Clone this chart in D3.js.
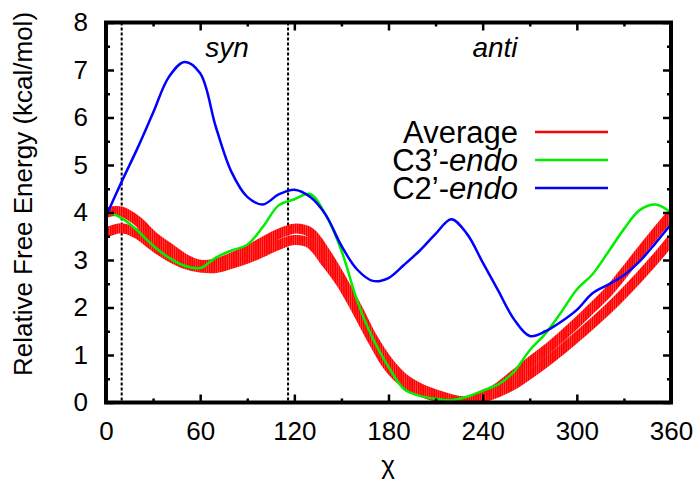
<!DOCTYPE html>
<html>
<head>
<meta charset="utf-8">
<script src="https://cdn.jsdelivr.net/npm/d3@7"></script>
<style>
  body { margin: 0; background: #fff; }
  svg { font-family: "Liberation Sans", Arial, sans-serif; }
</style>
</head>
<body>
<script>
// chi angle grid (degrees)
var chi = [0, 10, 20, 30, 40, 50, 60, 70, 80, 90, 100, 110, 120, 130, 140, 150, 160, 170, 180,
           190, 200, 210, 220, 230, 240, 250, 260, 270, 280, 290, 300, 310, 320, 330, 340, 350, 360];

// C2'-endo (blue)
var c2endo = [3.92, 4.65, 5.35, 6.1, 6.85, 7.17, 6.93, 5.8, 4.85, 4.33, 4.17, 4.38, 4.48, 4.33, 3.95, 3.3, 2.8,
              2.56, 2.62, 2.9, 3.2, 3.55, 3.86, 3.55, 2.95, 2.35, 1.75, 1.4, 1.5, 1.7, 1.95, 2.3, 2.48, 2.68,
              2.97, 3.35, 3.75];

// C3'-endo (green)
var c3endo = [4.02, 3.88, 3.62, 3.3, 3.05, 2.88, 2.83, 3.05, 3.2, 3.32, 3.7, 4.15, 4.28, 4.39, 3.95, 3.2, 2.15,
              1.35, 0.75, 0.28, 0.14, 0.08, 0.05, 0.12, 0.25, 0.38, 0.65, 1.1, 1.45, 1.9, 2.38, 2.7, 3.17, 3.65,
              4.05, 4.17, 4.0];

// Average: upper and lower edges of the error band (red)
var avgUpper = [4.0, 4.02, 3.82, 3.5, 3.26, 3.03, 2.9, 2.93, 3.05, 3.2, 3.38, 3.55, 3.66, 3.58, 3.15, 2.6, 2.0,
                1.35, 0.85, 0.5, 0.3, 0.17, 0.07, 0.03, 0.14, 0.32, 0.58, 0.85, 1.1, 1.38, 1.68, 2.0, 2.33, 2.73,
                3.15, 3.56, 3.95];
var avgLower = [3.58, 3.67, 3.55, 3.3, 3.08, 2.92, 2.84, 2.83, 2.92, 3.03, 3.17, 3.32, 3.42, 3.35, 2.95, 2.5, 1.92,
                1.3, 0.75, 0.42, 0.24, 0.12, 0.04, 0.02, 0.1, 0.22, 0.38, 0.6, 0.84, 1.1, 1.38, 1.67, 1.97, 2.3,
                2.65, 3.02, 3.42];

var xTicks = [0, 60, 120, 180, 240, 300, 360];
var yTicks = [0, 1, 2, 3, 4, 5, 6, 7, 8];
var xMinor = [30, 90, 150, 210, 270, 330];
var yMinor = [0.5, 1.5, 2.5, 3.5, 4.5, 5.5, 6.5, 7.5];
var regionLines = [10, 116];

var legendNames = ["Average", "C3’-", "C2’-"];
var legendItalic = ["", "endo", "endo"];
var legendColors = ["#ff0000", "#00ee00", "#0000ff"];

var width = 699, height = 489;
var pLeft = 106, pRight = 671, pTop = 22.5, pBottom = 402.5;

var x = d3.scaleLinear().domain([0, 360]).range([pLeft, pRight]);
var y = d3.scaleLinear().domain([0, 8]).range([pBottom, pTop]);

var svg = d3.select("body").append("svg")
    .attr("width", width)
    .attr("height", height);

var defs = svg.append("defs");
defs.append("clipPath").attr("id", "plot")
  .append("rect")
    .attr("x", pLeft).attr("y", pTop)
    .attr("width", pRight - pLeft).attr("height", pBottom - pTop);

// vertical hatching used for the error band
var hatch = defs.append("pattern")
    .attr("id", "hatch")
    .attr("patternUnits", "userSpaceOnUse")
    .attr("width", 2.2).attr("height", 10);
hatch.append("rect").attr("width", 2.2).attr("height", 10).attr("fill", "#ff0000");
hatch.append("rect").attr("x", 1.5).attr("width", 0.5).attr("height", 10).attr("fill", "#ff6a6a");

// dotted region separators
svg.selectAll("line.region")
  .data(regionLines)
  .enter().append("line")
    .attr("class", "region")
    .attr("x1", function(d) { return x(d); })
    .attr("x2", function(d) { return x(d); })
    .attr("y1", pTop).attr("y2", pBottom)
    .attr("stroke", "#000")
    .attr("stroke-width", 2)
    .attr("stroke-dasharray", "3,2");

var plot = svg.append("g").attr("clip-path", "url(#plot)");

function lineOf(values) {
  return d3.line()
    .x(function(d, i) { return x(chi[i]); })
    .y(function(d) { return y(d); })
    .curve(d3.curveCatmullRom.alpha(0.5))(values);
}

// red band edges
[avgUpper, avgLower].forEach(function(vals) {
  plot.append("path")
    .attr("d", lineOf(vals))
    .attr("fill", "none")
    .attr("stroke", "url(#hatch)")
    .attr("stroke-width", 10);
});

plot.append("path")
  .attr("d", lineOf(c3endo))
  .attr("fill", "none")
  .attr("stroke", "#00ee00")
  .attr("stroke-width", 2.5);

plot.append("path")
  .attr("d", lineOf(c2endo))
  .attr("fill", "none")
  .attr("stroke", "#0000ff")
  .attr("stroke-width", 2.5);

// axes with inward ticks
svg.append("g")
    .attr("transform", "translate(0," + pBottom + ")")
    .call(d3.axisBottom(x).tickValues(xTicks).tickSize(-8).tickPadding(19));
svg.append("g")
    .attr("transform", "translate(" + pLeft + ",0)")
    .call(d3.axisLeft(y).tickValues(yTicks).tickSize(-8).tickPadding(18));
svg.append("g")
    .attr("transform", "translate(0," + pTop + ")")
    .call(d3.axisTop(x).tickValues(xTicks).tickSize(-8).tickFormat(""));
svg.append("g")
    .attr("transform", "translate(" + pRight + ",0)")
    .call(d3.axisRight(y).tickValues(yTicks).tickSize(-8).tickFormat(""));

// minor ticks
svg.append("g").attr("transform", "translate(0," + pBottom + ")")
  .call(d3.axisBottom(x).tickValues(xMinor).tickSize(-4).tickFormat(""));
svg.append("g").attr("transform", "translate(0," + pTop + ")")
  .call(d3.axisTop(x).tickValues(xMinor).tickSize(-4).tickFormat(""));
svg.append("g").attr("transform", "translate(" + pLeft + ",0)")
  .call(d3.axisLeft(y).tickValues(yMinor).tickSize(-4).tickFormat(""));
svg.append("g").attr("transform", "translate(" + pRight + ",0)")
  .call(d3.axisRight(y).tickValues(yMinor).tickSize(-4).tickFormat(""));

svg.selectAll(".domain").remove();
svg.selectAll(".tick line").attr("stroke", "#000").attr("stroke-width", 2.5);
svg.selectAll(".tick text")
  .attr("font-family", "Liberation Sans, Arial, sans-serif")
  .attr("font-size", "26px")
  .attr("fill", "#000");

// frame
svg.append("rect")
  .attr("x", pLeft).attr("y", pTop)
  .attr("width", pRight - pLeft).attr("height", pBottom - pTop)
  .attr("fill", "none")
  .attr("stroke", "#000")
  .attr("stroke-width", 4);

// axis titles
svg.append("text")
  .attr("transform", "translate(32,194) rotate(-90)")
  .attr("text-anchor", "middle")
  .attr("font-size", "26px")
  .text("Relative Free Energy (kcal/mol)");

svg.append("text")
  .attr("x", 388).attr("y", 474)
  .attr("text-anchor", "middle")
  .attr("font-size", "26px")
  .text("χ");

// region labels
svg.append("text")
  .attr("x", 227).attr("y", 57)
  .attr("text-anchor", "middle")
  .attr("font-size", "28px")
  .attr("font-style", "italic")
  .text("syn");
svg.append("text")
  .attr("x", 495).attr("y", 57)
  .attr("text-anchor", "middle")
  .attr("font-size", "28px")
  .attr("font-style", "italic")
  .text("anti");

// legend
var legend = svg.append("g");
legendNames.forEach(function(name, i) {
  var yy = 132 + i * 28;
  var t = legend.append("text")
    .attr("x", 518).attr("y", yy + 11)
    .attr("text-anchor", "end")
    .attr("font-size", "31px");
  t.append("tspan").text(name);
  if (legendItalic[i]) t.append("tspan").attr("font-style", "italic").text(legendItalic[i]);
  legend.append("line")
    .attr("x1", 535).attr("x2", 608)
    .attr("y1", yy).attr("y2", yy)
    .attr("stroke", legendColors[i])
    .attr("stroke-width", 2.5);
});
</script>
</body>
</html>
